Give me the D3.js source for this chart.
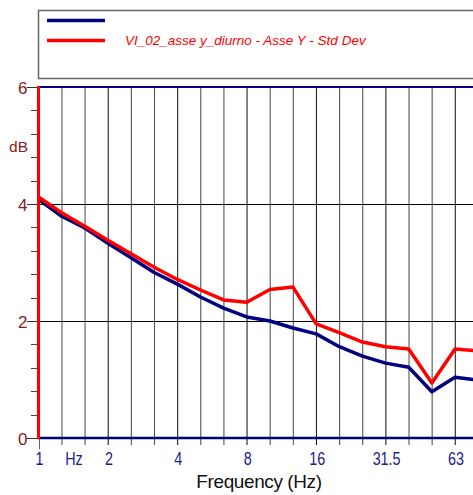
<!DOCTYPE html>
<html>
<head>
<meta charset="utf-8">
<script src="https://cdn.jsdelivr.net/npm/d3@7"></script>
<style>
  html, body { margin: 0; padding: 0; background: #fff; overflow: hidden; }
  svg { display: block; font-family: "Liberation Sans", Arial, sans-serif; }
</style>
</head>
<body>
<svg id="chart" width="473" height="495"></svg>
<script>
// Third-octave band centre frequencies (Hz)
const bands = ["1", "1.25", "1.6", "2", "2.5", "3.15", "4", "5", "6.3", "8", "10",
               "12.5", "16", "20", "25", "31.5", "40", "50", "63", "80"];
// Labelled bands on the frequency axis
const tickLabels = ["1", "2", "4", "8", "16", "31.5", "63"];
// First series (navy) — level in dB per band
const seriesA = [4.08, 3.79, 3.59, 3.33, 3.08, 2.83, 2.63, 2.41, 2.22, 2.07, 2.00,
                 1.88, 1.78, 1.56, 1.40, 1.28, 1.21, 0.79, 1.04, 0.99];
// VI_02_asse y_diurno - Asse Y - Std Dev (red)
const seriesB = [4.12, 3.85, 3.62, 3.38, 3.15, 2.92, 2.71, 2.53, 2.36, 2.32, 2.54,
                 2.58, 1.95, 1.80, 1.64, 1.56, 1.52, 0.94, 1.52, 1.49];
const legendLabel = "VI_02_asse y_diurno - Asse Y - Std Dev";
const yTicks = [0, 2, 4, 6];

const svg = d3.select("#chart");
const navy = "#000080", red = "#ff0000", labelRed = "#8b1a1a", tickBlue = "#1c1c8c";

const x = d3.scaleLinear().domain([0, 18]).range([38.5, 455]);
const y = d3.scaleLinear().domain([0, 6]).range([438, 87]);
const xRight = 473;

// vertical grid at every band
const grid = svg.append("g");
bands.forEach((b, i) => {
  const xi = x(i) + 0.3;
  if (i === 0 || xi > xRight) return;
  grid.append("line")
    .attr("x1", xi).attr("x2", xi).attr("y1", y(6)).attr("y2", y(0) + 7)
    .attr("stroke", tickLabels.includes(b) ? "#222" : "#555").attr("stroke-width", 1.1);
});
// horizontal grid
[2, 4].forEach(v => {
  grid.append("line")
    .attr("x1", x(0)).attr("x2", xRight).attr("y1", Math.round(y(v)) + 0.5).attr("y2", Math.round(y(v)) + 0.5)
    .attr("stroke", "#000").attr("stroke-width", 1);
});
// first-band tick below the axis
grid.append("line").attr("x1", 39.5).attr("x2", 39.5).attr("y1", y(0)).attr("y2", y(0) + 11)
  .attr("stroke", "#666").attr("stroke-width", 1);

// y axis ticks (major every 2, minor every 0.4)
const yAxis = svg.append("g");
d3.range(0, 6.001, 0.4).forEach(v => {
  const major = yTicks.some(t => Math.abs(t - v) < 1e-6);
  const yy = Math.round(y(v)) + 0.5;
  yAxis.append("line").attr("x1", major ? 27 : 31).attr("x2", major ? 39 : 37)
    .attr("y1", yy).attr("y2", yy).attr("stroke", major ? "#333" : "#444").attr("stroke-width", 1);
});
yAxis.append("line").attr("x1", 27).attr("x2", 39).attr("y1", y(6) + 0.5).attr("y2", y(6) + 0.5)
  .attr("stroke", "#333");
yAxis.selectAll("text.yl").data(yTicks).join("text")
  .attr("class", "yl")
  .attr("x", 27.5).attr("y", d => y(d) + 6.5)
  .attr("text-anchor", "end").attr("font-size", 17).attr("fill", labelRed)
  .text(d => d);
yAxis.append("text").attr("x", 28).attr("y", 151.5).attr("text-anchor", "end")
  .attr("font-size", 15.5).attr("fill", labelRed).text("dB");

// frame: top and bottom in navy
svg.append("line").attr("x1", x(0)).attr("x2", xRight).attr("y1", y(6)).attr("y2", y(6))
  .attr("stroke", navy).attr("stroke-width", 2);
svg.append("line").attr("x1", x(0)).attr("x2", xRight).attr("y1", y(0)).attr("y2", y(0))
  .attr("stroke", navy).attr("stroke-width", 2.5);

// series lines
const line = d3.line().x((d, i) => x(i)).y(d => y(d));
svg.append("path").datum(seriesA).attr("d", line)
  .attr("fill", "none").attr("stroke", navy).attr("stroke-width", 3.5).attr("stroke-linejoin", "round");
svg.append("path").datum(seriesB).attr("d", line)
  .attr("fill", "none").attr("stroke", red).attr("stroke-width", 3.5).attr("stroke-linejoin", "round");

// left axis line in red
svg.append("line").attr("x1", 38.5).attr("x2", 38.5).attr("y1", y(6) - 1).attr("y2", y(0) + 1)
  .attr("stroke", red).attr("stroke-width", 3);

// frequency labels (narrow face)
const xl = svg.append("g").attr("font-size", 17.5).attr("fill", tickBlue).attr("text-anchor", "middle");
const xLabel = (px, t) => xl.append("text")
  .attr("transform", `translate(${px},465) scale(0.82,1)`).text(t);
tickLabels.forEach(t => xLabel(x(bands.indexOf(t)) + 1, t));
xLabel(74, "Hz");

svg.append("text").attr("x", 259).attr("y", 488).attr("text-anchor", "middle")
  .attr("font-size", 19).attr("letter-spacing", -0.4).attr("fill", "#111").text("Frequency (Hz)");

// legend
const lg = svg.append("g");
lg.append("rect").attr("x", 38.5).attr("y", 10.5).attr("width", 460).attr("height", 68)
  .attr("fill", "#fff").attr("stroke", "#666").attr("stroke-width", 1.5);
lg.append("line").attr("x1", 47).attr("x2", 105).attr("y1", 20.5).attr("y2", 20.5)
  .attr("stroke", navy).attr("stroke-width", 3.5);
lg.append("line").attr("x1", 47).attr("x2", 105).attr("y1", 40.5).attr("y2", 40.5)
  .attr("stroke", red).attr("stroke-width", 3.5);
lg.append("text").attr("x", 125).attr("y", 45).attr("font-size", 13.5)
  .attr("font-style", "italic").attr("fill", red).text(legendLabel);
</script>
</body>
</html>
